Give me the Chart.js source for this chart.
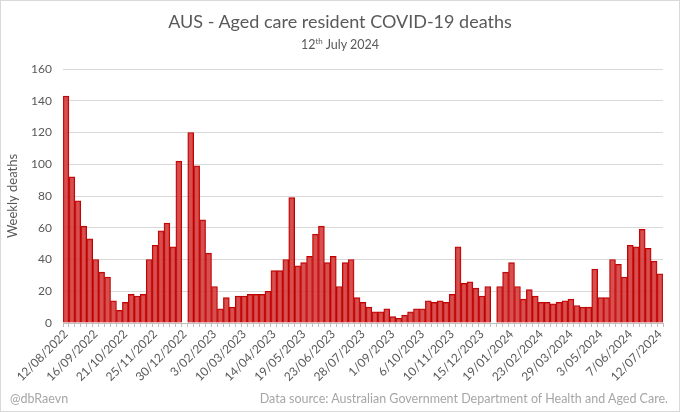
<!DOCTYPE html>
<html>
<head>
<meta charset="utf-8">
<script src="https://cdn.jsdelivr.net/npm/chart.js@4/dist/chart.umd.min.js"></script>
<style>
  html, body { margin: 0; padding: 0; background: #fff; }
  #wrap {
    position: relative; width: 680px; height: 412px;
    box-sizing: border-box; border: 1px solid #d9d9d9;
    font-family: Lato, "Open Sans", sans-serif; color: #595959;
  }
  #chart { position: absolute; left: 0; top: 0; }
  .title { position: absolute; left: 0; width: 100%; text-align: center; }
  #t1 { top: 9px; font-size: 18px; }
  #t2 { top: 35px; font-size: 12.5px; }
  #t2 sup { font-size: 8px; }
  .foot { position: absolute; top: 390px; font-size: 12.5px; color: #a6a6a6; }
</style>
</head>
<body>
<div id="wrap">
  <canvas id="chart" width="678" height="410"></canvas>
  <div class="title" id="t1">AUS - Aged care resident COVID-19 deaths</div>
  <div class="title" id="t2">12<sup>th</sup> July 2024</div>
  <div class="foot" style="left:9px">@dbRaevn</div>
  <div class="foot" style="right:11px">Data source: Australian Government Department of Health and Aged Care.</div>
</div>
<script>
// weekly deaths, one value per week starting 12/08/2022 (null = no report that week)
var deaths = [
  143, 92, 77, 61, 53, 40, 32, 29, 14, 8,
  13, 18, 17, 18, 40, 49, 58, 63, 48, 102,
  null, 120, 99, 65, 44, 23, 9, 16, 10, 17,
  17, 18, 18, 18, 20, 33, 33, 40, 79, 36,
  38, 42, 56, 61, 38, 42, 23, 38, 40, 16,
  13, 10, 7, 7, 9, 4, 3, 5, 7, 9,
  9, 14, 13, 14, 13, 18, 48, 25, 26, 22,
  17, 23, null, 23, 32, 38, 23, 15, 21, 17,
  13, 13, 12, 13, 14, 15, 11, 10, 10, 34,
  16, 16, 40, 37, 29, 49, 48, 59, 47, 39,
  31
];

// x labels shown every 5th week
var tickLabels = [
  '12/08/2022', '16/09/2022', '21/10/2022', '25/11/2022', '30/12/2022',
  '3/02/2023', '10/03/2023', '14/04/2023', '19/05/2023', '23/06/2023',
  '28/07/2023', '1/09/2023', '6/10/2023', '10/11/2023', '15/12/2023',
  '19/01/2024', '23/02/2024', '29/03/2024', '3/05/2024', '7/06/2024',
  '12/07/2024'
];
var labelEvery = 5;

var yTicks = [0, 20, 40, 60, 80, 100, 120, 140, 160];

var weeks = deaths.map(function(d, i) { return i; });

var grey = '#595959';

new Chart(document.getElementById('chart'), {
  type: 'bar',
  data: {
    labels: weeks,
    datasets: [{
      label: 'Weekly deaths',
      data: deaths,
      backgroundColor: 'rgba(208, 48, 48, 0.85)',
      borderColor: '#c00000',
      borderWidth: 1,
      barPercentage: 1,
      categoryPercentage: 1
    }]
  },
  options: {
    responsive: false,
    animation: false,
    layout: { padding: { top: 68, right: 16, bottom: 28, left: 4 } },
    plugins: { legend: { display: false }, tooltip: { enabled: false } },
    scales: {
      x: {
        grid: { drawOnChartArea: false, drawTicks: true, tickLength: 4, color: '#bfbfbf' },
        border: { color: '#bfbfbf' },
        afterFit: function(s) { s.height = 60; },
        ticks: {
          autoSkip: false, maxRotation: 45, minRotation: 45,
          color: grey, font: { family: 'Lato', size: 12 }, padding: 0,
          callback: function(v, i) {
            return i % labelEvery === 0 ? tickLabels[i / labelEvery] : '';
          }
        }
      },
      y: {
        min: yTicks[0], max: yTicks[yTicks.length - 1],
        afterFit: function(s) { s.width = 58; },
        afterBuildTicks: function(s) { s.ticks = yTicks.map(function(v) { return { value: v }; }); },
        grid: { color: '#d9d9d9', drawTicks: false },
        border: { display: false },
        ticks: { color: grey, font: { family: 'Lato', size: 12 }, padding: 11 },
        title: { display: true, text: 'Weekly deaths', color: grey, font: { family: 'Lato', size: 13 }, padding: 0 }
      }
    }
  }
});
</script>
</body>
</html>
